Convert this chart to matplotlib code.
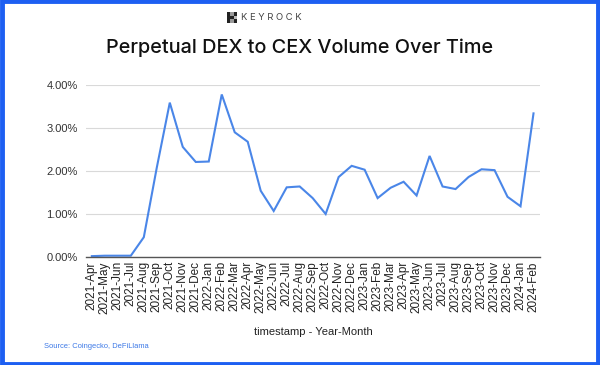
"""Perpetual DEX to CEX volume ratio, monthly."""

import matplotlib

matplotlib.use("Agg")
import matplotlib.pyplot as plt
from matplotlib.patches import Rectangle
from matplotlib.ticker import FuncFormatter

# month labels, Apr 2021 .. Feb 2024
months = (
    [f"2021-{m}" for m in ["Apr", "May", "Jun", "Jul", "Aug", "Sep", "Oct", "Nov", "Dec"]]
    + [f"2022-{m}" for m in ["Jan", "Feb", "Mar", "Apr", "May", "Jun", "Jul", "Aug", "Sep", "Oct", "Nov", "Dec"]]
    + [f"2023-{m}" for m in ["Jan", "Feb", "Mar", "Apr", "May", "Jun", "Jul", "Aug", "Sep", "Oct", "Nov", "Dec"]]
    + ["2024-Jan", "2024-Feb"]
)

# DEX/CEX ratio in percent
ratio_pct = [
    0.02, 0.03, 0.03, 0.03, 0.46, 2.08, 3.59, 2.56, 2.21,
    2.22, 3.78, 2.90, 2.68, 1.54, 1.07, 1.62, 1.64, 1.37, 1.00, 1.86, 2.12,
    2.03, 1.37, 1.61, 1.75, 1.43, 2.35, 1.64, 1.58, 1.86, 2.04, 2.02, 1.40,
    1.18, 3.34,
]

yticks = [0, 1, 2, 3, 4]

LINE = "#4a86e8"
BORDER = "#1d5ff2"

fig = plt.figure(figsize=(6.0, 3.65), dpi=100)
ax = fig.add_axes([86 / 600, 1 - 257 / 365, 454 / 600, 172 / 365])

x = list(range(len(months)))
ax.plot(x, ratio_pct, color=LINE, linewidth=1.5, solid_joinstyle="miter")

ax.set_xlim(-0.45, len(months) - 1 + 0.5)
ax.set_ylim(0, 4)
ax.set_yticks(yticks)
ax.yaxis.set_major_formatter(FuncFormatter(lambda v, _: f"{v:.2f}%"))
ax.set_xticks(x)
ax.set_xticklabels(months, rotation=90, fontsize=8.5, family="Liberation Sans", color="#222222")
for lab in ax.get_yticklabels():
    lab.set_fontsize(8)
    lab.set_family("Liberation Sans")
    lab.set_color("#333333")
ax.tick_params(axis="x", length=0, pad=3)
ax.tick_params(axis="y", length=0, pad=6)

ax.grid(axis="y", color="#d9d9d9", linewidth=0.8)
ax.set_axisbelow(True)
for s in ["top", "right", "left"]:
    ax.spines[s].set_visible(False)
ax.spines["bottom"].set_color("#555555")
ax.spines["bottom"].set_linewidth(1.0)

ax.set_xlabel("timestamp - Year-Month", fontsize=8, family="Liberation Sans",
              color="#222222", labelpad=10)

# title + brand
fig.text(0.5, 1 - 48 / 365, "Perpetual DEX to CEX Volume Over Time", ha="center",
         va="center", fontsize=14.3, family="Inter", weight="medium", color="#111111")
fig.text(241 / 600, 1 - 18 / 365, "K E Y R O C K", ha="left", va="center",
         fontsize=6.8, family="Inter", color="#444444")
# little checker logo
cell = 3.4
for r, c, col in [(0, 0, "#222"), (0, 1, "#999"), (0, 2, "#222"),
                  (1, 0, "#222"), (1, 1, "#222"), (1, 2, "#bbb"),
                  (2, 0, "#222"), (2, 1, "#999"), (2, 2, "#222")]:
    fig.patches.append(Rectangle(((227 + c * cell) / 600, 1 - (12.5 + (r + 1) * cell) / 365),
                                 cell / 600, cell / 365, transform=fig.transFigure,
                                 facecolor=col, edgecolor="none"))

fig.text(44 / 600, 1 - 347 / 365, "Source: Coingecko, DeFiLlama", ha="left",
         va="center", fontsize=5.4, family="Liberation Sans", color="#3b78e7")

# blue frame
fig.patches.append(Rectangle((0.003, 0.004), 0.994, 0.992, transform=fig.transFigure,
                             fill=False, edgecolor=BORDER, linewidth=3.5))

fig.savefig("out.png", dpi=100)
